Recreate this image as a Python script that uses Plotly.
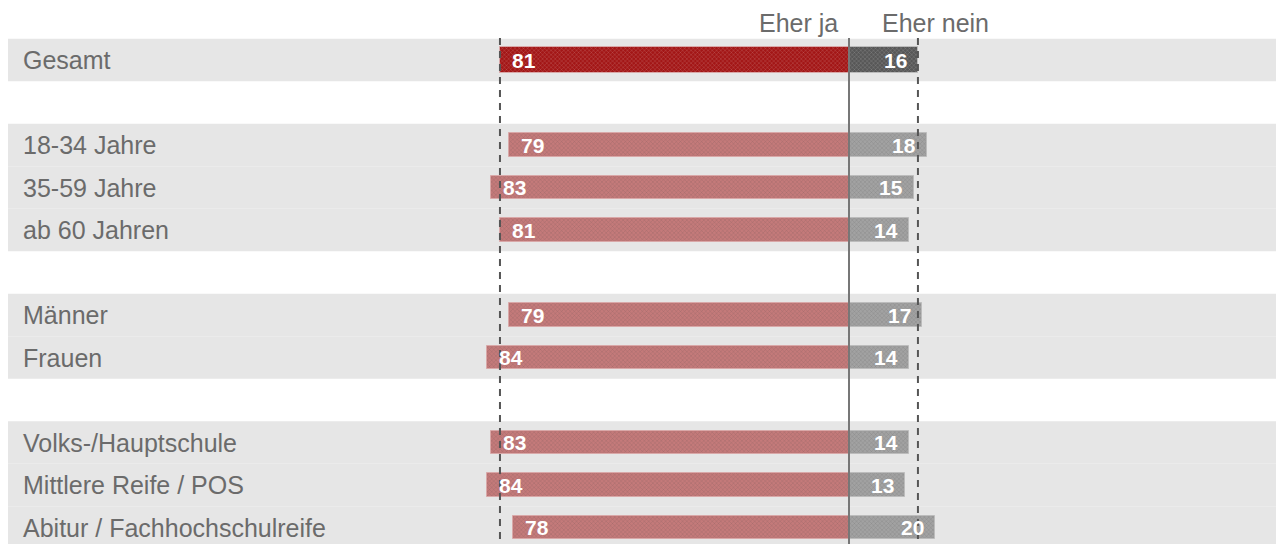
import plotly.graph_objects as go

# rows top to bottom; empty label = spacer row
categories = ["Gesamt", "", "18-34 Jahre", "35-59 Jahre", "ab 60 Jahren", "",
              "Männer", "Frauen", "", "Volks-/Hauptschule",
              "Mittlere Reife / POS", "Abitur / Fachhochschulreife"]
eher_ja = [81, None, 79, 83, 81, None, 79, 84, None, 83, 84, 78]
eher_nein = [16, None, 18, 15, 14, None, 17, 14, None, 14, 13, 20]
headers = ["Eher ja", "Eher nein"]

rows = list(range(len(categories)))
W, H = 1284, 544
off = 8  # page body margin
px_per_unit = 4.309
center_px = 849 - off
row_h = 42.5
first_row_px = 60 - off

font = "Liberation Sans, Arial, sans-serif"
txt_col = "#6b6b6b"

ja_colors = ["#a31616" if i == 0 else "#c47a7a" for i in rows]
nein_colors = ["#575757" if i == 0 else "#a2a2a2" for i in rows]
ja_fg = ["#a31616" if i == 0 else "#b46868" for i in rows]
nein_fg = ["#575757" if i == 0 else "#929292" for i in rows]
widths = [0.6 if i == 0 else 0.56 for i in rows]

fig = go.Figure()
fig.add_trace(go.Bar(
    y=rows, x=[-v if v is not None else None for v in eher_ja], orientation="h",
    width=widths,
    marker=dict(color=ja_colors, line=dict(color="#d9a8a8", width=1),
                pattern=dict(shape="x", size=3, solidity=0.15,
                             fgcolor=ja_fg, bgcolor=ja_colors)),
    hoverinfo="skip", showlegend=False))
fig.add_trace(go.Bar(
    y=rows, x=eher_nein, orientation="h", width=widths,
    marker=dict(color=nein_colors, line=dict(color="#bcbcbc", width=1),
                pattern=dict(shape="x", size=3, solidity=0.15,
                             fgcolor=nein_fg, bgcolor=nein_colors)),
    hoverinfo="skip", showlegend=False))

shapes = []
annotations = []
for i, lab in enumerate(categories):
    if lab:
        shapes.append(dict(type="rect", xref="paper", yref="y", x0=0, x1=(1281 - off) / W,
                           y0=i - 0.5, y1=i + 0.5, fillcolor="#e6e6e6",
                           line=dict(width=0), layer="below"))
        annotations.append(dict(xref="paper", yref="y", x=(21 - off) / W, y=i, text=lab,
                                xanchor="left", yanchor="middle", showarrow=False,
                                font=dict(family=font, size=25, color=txt_col)))
    if eher_ja[i] is not None:
        annotations.append(dict(x=-eher_ja[i], y=i, text=str(eher_ja[i]), xanchor="left",
                                xshift=10, yanchor="middle", showarrow=False,
                                font=dict(family=font, size=21, color="white", weight="bold")))
    if eher_nein[i] is not None:
        annotations.append(dict(x=eher_nein[i], y=i, text=str(eher_nein[i]), xanchor="right",
                                xshift=-9, yanchor="middle", showarrow=False,
                                font=dict(family=font, size=21, color="white", weight="bold")))

# reference lines: centre and Gesamt values
y_top = -0.52
y_bot = len(categories) + 1
shapes.append(dict(type="line", x0=0, x1=0, y0=y_top, y1=y_bot,
                   line=dict(color="#777777", width=2)))
for xv in (-eher_ja[0], eher_nein[0]):
    shapes.append(dict(type="line", x0=xv, x1=xv, y0=y_top, y1=y_bot,
                       line=dict(color="#555555", width=2, dash="7px,6px")))

annotations.append(dict(x=0, y=-0.88, text=headers[0], xanchor="right", xshift=-9,
                        yanchor="middle", showarrow=False,
                        font=dict(family=font, size=25, color=txt_col)))
annotations.append(dict(x=0, y=-0.88, text=headers[1], xanchor="left", xshift=31,
                        yanchor="middle", showarrow=False,
                        font=dict(family=font, size=25, color=txt_col)))

x0 = -center_px / px_per_unit
x1 = (W - center_px) / px_per_unit
y_min = -first_row_px / row_h
y_max = (H - first_row_px) / row_h

fig.update_layout(
    width=W, height=H, margin=dict(l=0, r=0, t=0, b=0),
    paper_bgcolor="white", plot_bgcolor="white",
    barmode="relative", bargap=0,
    xaxis=dict(range=[x0, x1], visible=False, fixedrange=True),
    yaxis=dict(range=[y_max, y_min], visible=False, fixedrange=True),
    shapes=shapes, annotations=annotations,
)

fig.write_html("out.html")
